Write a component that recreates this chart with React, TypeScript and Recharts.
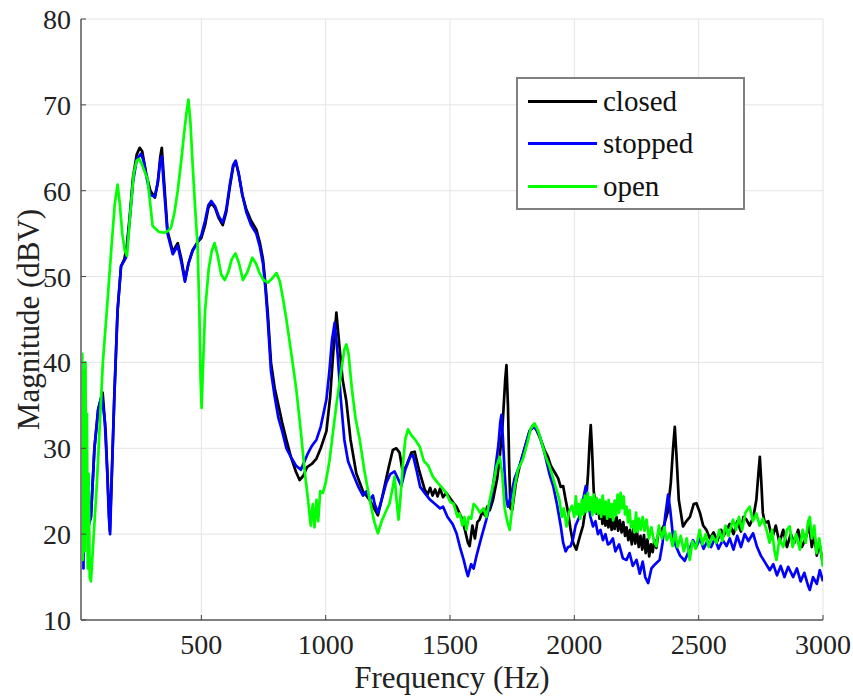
import React from "react"
import { LineChart, Line, XAxis, YAxis, CartesianGrid, Legend, Label } from "recharts"

// [frequency Hz, magnitude dBV]
const closed: [number, number][] = [
  [16, 30], [22, 26], [30, 24], [40, 22.5], [50, 21.5], [56, 22], [70, 30], [85, 34.5], [103, 36.5],
  [115, 32], [125, 25], [132, 20.4], [140, 27], [150, 36], [163, 46], [177, 51.2], [190, 52], [200, 53.5],
  [212, 57], [225, 61.5], [240, 64.2], [252, 65], [262, 64.6], [278, 62], [295, 60], [313, 59.2], [325, 61],
  [335, 64], [341, 65], [348, 62], [364, 55.3], [385, 52.9], [405, 53.9], [420, 52], [434, 49.6], [448, 51.5],
  [465, 53.1], [485, 54], [500, 54.5], [515, 56], [528, 58], [540, 58.6], [555, 58], [570, 56.8], [586, 56],
  [600, 57.5], [615, 60.5], [628, 62.8], [638, 63.4], [650, 62], [665, 59.5], [681, 57.8], [700, 56.5],
  [721, 55.5], [735, 54], [748, 52], [758, 49], [767, 45.8], [780, 40], [795, 37], [810, 35], [825, 33],
  [842, 31], [860, 29], [880, 27.3], [895, 26.3], [910, 26.8], [925, 27.8], [945, 28.2], [963, 28.8],
  [980, 30], [1003, 32], [1018, 36], [1030, 41], [1043, 45.8], [1055, 42], [1068, 38], [1083, 35.5],
  [1100, 31], [1123, 27.1], [1150, 25], [1177, 24], [1195, 23], [1210, 22.2], [1225, 24], [1240, 26],
  [1255, 28], [1270, 29.8], [1284, 30], [1297, 29.5], [1310, 27.2], [1325, 28], [1345, 29.5], [1358, 29.6],
  [1375, 27.5], [1398, 25.2], [1410, 24.6], [1420, 25.4], [1430, 24.5], [1440, 25.2], [1450, 24.4],
  [1460, 25.3], [1472, 24.3], [1485, 24.8], [1500, 24.2], [1515, 23.6], [1526, 23.2], [1545, 22],
  [1560, 20.5], [1572, 19], [1579, 18.6], [1590, 21], [1600, 19.5], [1610, 21.4], [1619, 21.7], [1630, 22.6],
  [1640, 22.2], [1650, 23.2], [1660, 22.8], [1673, 24], [1690, 26.5], [1700, 29], [1712, 33], [1722, 38],
  [1727, 39.7], [1733, 35], [1738, 28], [1743, 23], [1750, 22.8], [1765, 26], [1780, 27.9], [1800, 30],
  [1820, 32], [1834, 32.7], [1850, 32], [1865, 31], [1880, 29.8], [1894, 29], [1905, 28], [1915, 27.5],
  [1925, 27], [1935, 26.5], [1945, 25.5], [1955, 25.6], [1965, 24], [1975, 22.5], [1985, 20.5], [1995, 19],
  [2008, 18.2], [2020, 19.5], [2035, 21], [2045, 23], [2055, 27], [2062, 31], [2066, 32.7], [2071, 30],
  [2078, 25], [2089, 22.4], [2095, 23.5], [2101, 21.8], [2107, 23], [2113, 21.2], [2119, 22.8], [2125, 21],
  [2131, 22.5], [2137, 20.8], [2143, 22.2], [2150, 20.5], [2156, 21.8], [2162, 20.6], [2170, 22],
  [2176, 20.4], [2183, 21.6], [2190, 20.2], [2197, 21.4], [2204, 19.8], [2210, 20.8], [2217, 19.3],
  [2224, 20.5], [2231, 18.8], [2238, 20.6], [2245, 18.9], [2252, 20.3], [2259, 18.5], [2266, 19.8],
  [2273, 18.2], [2280, 19.9], [2287, 17.8], [2294, 19.4], [2301, 17.4], [2308, 18.8], [2315, 17.9],
  [2322, 19.3], [2330, 18.4], [2337, 20], [2343, 20.1], [2360, 21], [2375, 22.5], [2388, 26], [2397, 30],
  [2404, 32.5], [2411, 29], [2420, 24], [2437, 20.9], [2450, 21.5], [2465, 22], [2480, 23.5], [2491, 23.6],
  [2505, 22.5], [2518, 21], [2531, 20.5], [2545, 19.5], [2560, 20.2], [2575, 19.2], [2590, 20.5],
  [2600, 19.8], [2612, 20.5], [2625, 21.2], [2640, 20], [2655, 21.5], [2670, 20.3], [2680, 22],
  [2692, 21.7], [2705, 21], [2720, 22], [2732, 24], [2740, 27], [2746, 29], [2752, 26], [2758, 22.5],
  [2766, 21.3], [2780, 21.5], [2795, 19.5], [2810, 21], [2825, 19], [2840, 20.5], [2855, 18.5], [2870, 20],
  [2885, 19], [2900, 20.5], [2915, 18.5], [2930, 19.5], [2945, 21], [2955, 18.5], [2965, 20], [2975, 17.5],
  [2985, 19], [3000, 16.5],
]

const stopped: [number, number][] = [
  [16, 40], [18, 24], [20, 40], [22, 17], [24, 38], [26, 16], [28, 37], [31, 24], [35, 20], [40, 22],
  [47, 21], [56, 22], [70, 30], [85, 34.5], [100, 36.3], [112, 33], [122, 27], [128, 22], [133, 20],
  [140, 27], [150, 36], [163, 46], [177, 51.2], [197, 52.2], [210, 56], [225, 61], [240, 63.6], [257, 64.3],
  [268, 63.5], [280, 61.5], [295, 59.5], [313, 59.3], [325, 61], [335, 63.5], [341, 64], [348, 61],
  [364, 55], [385, 52.6], [405, 53.6], [420, 51.6], [434, 49.4], [448, 51.5], [465, 53], [485, 54],
  [500, 54.8], [515, 56.5], [528, 58.3], [540, 58.8], [555, 58.2], [570, 57], [586, 56.3], [600, 57.8],
  [615, 60.8], [628, 63], [638, 63.5], [650, 62], [665, 59.5], [681, 57.5], [700, 56], [721, 55], [735, 53.5],
  [748, 51.5], [758, 48.5], [767, 45], [780, 39], [795, 36], [810, 33.5], [825, 32], [842, 30], [860, 29],
  [880, 28], [900, 27.5], [915, 28.5], [930, 29.5], [945, 30.3], [963, 31], [980, 32.5], [1003, 35.7],
  [1015, 39], [1025, 42.5], [1036, 44.6], [1048, 41], [1060, 36], [1075, 31], [1090, 28.5], [1110, 27],
  [1130, 25.6], [1150, 24.5], [1165, 25], [1177, 24], [1190, 24.5], [1197, 23.5], [1210, 22.5], [1225, 24],
  [1244, 26], [1260, 27], [1277, 27.3], [1290, 26.5], [1304, 25.6], [1320, 27.5], [1340, 29], [1351, 29.2],
  [1365, 27.5], [1380, 25.5], [1398, 24.8], [1420, 24], [1440, 23.5], [1460, 23], [1472, 23.2], [1490, 22],
  [1510, 21.2], [1526, 20.1], [1540, 18.5], [1555, 17], [1565, 15.8], [1572, 15.1], [1585, 16.5],
  [1595, 16], [1606, 17.4], [1625, 19.5], [1646, 21.7], [1665, 24], [1680, 27.1], [1695, 30.5], [1702, 33],
  [1707, 33.9], [1713, 31], [1720, 27], [1727, 24], [1733, 23.2], [1745, 24.5], [1760, 26.5], [1780, 28],
  [1800, 30], [1820, 32], [1840, 32.6], [1860, 31.5], [1880, 29.5], [1900, 27], [1915, 25.6], [1930, 23.5],
  [1945, 21], [1955, 19], [1965, 18], [1975, 18.5], [1985, 18.6], [1995, 19.5], [2005, 21], [2020, 22],
  [2035, 24], [2046, 25.6], [2055, 24], [2065, 22], [2075, 20.9], [2085, 21.5], [2095, 20], [2105, 20.5],
  [2115, 19.3], [2125, 20], [2135, 18.8], [2142, 18.9], [2155, 19.5], [2165, 18], [2180, 18.8], [2195, 17.2],
  [2210, 17], [2222, 17.8], [2235, 16.3], [2250, 17], [2263, 15.4], [2275, 16.8], [2285, 15], [2297, 14.3],
  [2310, 16], [2325, 16.5], [2343, 17], [2355, 19], [2365, 22], [2377, 24.6], [2385, 23], [2397, 19.7],
  [2410, 18.5], [2425, 17.5], [2444, 16.9], [2460, 18], [2477, 19.3], [2490, 18.5], [2505, 19.5],
  [2520, 18.3], [2535, 19.2], [2550, 18.5], [2565, 19.5], [2580, 18.3], [2597, 19.3], [2612, 18.6],
  [2625, 19.5], [2640, 18.2], [2655, 19.8], [2670, 18.5], [2685, 20], [2700, 19.2], [2719, 20.1],
  [2735, 18.5], [2750, 17.5], [2765, 16.8], [2786, 15.8], [2800, 16.5], [2815, 15.2], [2830, 16.3],
  [2845, 15], [2860, 16.2], [2880, 15], [2895, 16], [2910, 14.5], [2925, 15.5], [2940, 14], [2947, 13.5],
  [2960, 15], [2975, 14.2], [2987, 15.8], [3000, 14.5],
]

const open: [number, number][] = [
  [16, 39], [19, 22], [21, 41], [23, 17], [25, 39], [27, 20], [29, 38], [31, 18], [34, 40], [37, 21],
  [40, 34], [43, 16], [47, 27], [51, 15], [56, 14.5], [80, 26], [104, 40], [123, 47.3], [140, 54],
  [152, 58.5], [163, 60.7], [172, 58.5], [182, 55], [192, 53], [201, 52.4], [213, 57], [228, 62],
  [240, 63.5], [250, 63.7], [262, 63], [284, 61.3], [304, 55.9], [330, 55.2], [351, 55.1], [365, 55.3],
  [378, 55.7], [392, 57.5], [405, 60], [418, 63.2], [430, 66.5], [440, 69], [448, 70.6], [456, 68],
  [465, 63], [475, 58], [485, 53.5], [492, 46], [497, 38], [501, 34.7], [506, 39], [515, 46], [530, 51],
  [542, 53], [553, 53.9], [565, 52.5], [580, 50.2], [594, 49.6], [608, 50.5], [622, 52], [637, 52.7],
  [652, 51.5], [667, 49.6], [685, 50.5], [705, 52.2], [720, 51.5], [734, 50.4], [750, 49.6], [768, 49.3],
  [785, 49.8], [802, 50.4], [815, 49.5], [828, 47.5], [842, 45], [862, 41], [882, 36.8], [900, 32],
  [915, 27.5], [929, 24], [940, 21], [948, 23.5], [955, 20.8], [963, 24], [970, 21.5], [978, 25],
  [989, 24.8], [1000, 26], [1015, 28.5], [1029, 31.8], [1045, 35.5], [1060, 38.5], [1075, 41.5],
  [1083, 42.1], [1092, 41], [1105, 37], [1120, 33.5], [1137, 31], [1155, 27.5], [1177, 24], [1195, 21.5],
  [1210, 20.1], [1225, 21.5], [1240, 22.5], [1257, 23.6], [1270, 25.5], [1277, 26.7], [1285, 24],
  [1293, 21.7], [1300, 24], [1310, 28], [1320, 31], [1331, 32.2], [1345, 31.5], [1360, 31], [1378, 30.2],
  [1395, 28.5], [1412, 28], [1431, 26.7], [1450, 26], [1465, 25.5], [1485, 24.8], [1500, 23.8],
  [1515, 23.5], [1530, 22], [1539, 22.4], [1550, 21], [1558, 22], [1566, 20.5], [1575, 22], [1585, 21.8],
  [1595, 23.5], [1606, 23.2], [1620, 22.5], [1635, 23], [1646, 22], [1660, 24], [1675, 26], [1687, 27.9],
  [1700, 29], [1710, 27], [1720, 23], [1730, 21.5], [1740, 20.5], [1750, 23], [1760, 25.5], [1773, 27.5],
  [1793, 28.7], [1810, 30.5], [1825, 32.3], [1840, 32.9], [1855, 32], [1870, 30.5], [1885, 29],
  [1900, 27.9], [1915, 26.5], [1925, 25.5], [1940, 24], [1950, 22], [1958, 23], [1968, 20.9], [1978, 22.5],
  [1990, 23.3], [2000, 22], [2006, 24.4], [2012, 22.3], [2018, 23.5], [2024, 21.8], [2030, 24],
  [2036, 22.3], [2042, 24.5], [2048, 22.6], [2054, 24.8], [2060, 22.8], [2066, 24.3], [2072, 22.2],
  [2078, 24.6], [2084, 22.5], [2090, 24.2], [2096, 22.4], [2102, 24], [2108, 22], [2114, 24.5],
  [2120, 22.3], [2126, 23.8], [2132, 21.8], [2138, 24], [2144, 22], [2150, 23.5], [2156, 21.6],
  [2162, 23.9], [2168, 22.2], [2174, 24.6], [2180, 22.5], [2186, 24.8], [2192, 23], [2198, 24.4],
  [2204, 22.3], [2210, 23.2], [2216, 21.4], [2222, 22.8], [2228, 20.8], [2236, 21.5], [2242, 20.2],
  [2248, 22.5], [2254, 20.3], [2260, 21.8], [2267, 20.5], [2275, 22], [2282, 20.4], [2290, 21.7],
  [2300, 19.5], [2310, 20.8], [2320, 19.2], [2330, 18.6], [2340, 21], [2352, 19.5], [2362, 20.8],
  [2372, 19.3], [2384, 20.1], [2395, 18.6], [2405, 20.3], [2415, 18.5], [2428, 19.8], [2440, 18],
  [2452, 19.5], [2464, 17], [2475, 19.2], [2488, 18.3], [2504, 20.5], [2515, 18.8], [2528, 20],
  [2540, 18.5], [2555, 19.8], [2571, 19], [2583, 20.5], [2595, 19.2], [2608, 21], [2620, 19.8],
  [2638, 21.7], [2650, 20.5], [2662, 22], [2675, 20.5], [2688, 22.5], [2705, 23.2], [2718, 21.5],
  [2732, 22.4], [2745, 21], [2758, 21.8], [2773, 20.5], [2785, 19], [2795, 20.5], [2805, 18], [2813, 17],
  [2825, 19.5], [2840, 18.5], [2855, 20.5], [2866, 20.9], [2878, 18.5], [2892, 20], [2907, 18.2],
  [2918, 20.5], [2930, 19], [2940, 21.5], [2947, 22], [2955, 19.5], [2965, 21], [2974, 17.8], [2985, 19.5],
  [3000, 16.2],
]

const freqTicks = [500, 1000, 1500, 2000, 2500, 3000]
const magTicks = [10, 20, 30, 40, 50, 60, 70, 80]

const series = [
  { name: "closed", color: "#000000", points: closed },
  { name: "stopped", color: "#0000ff", points: stopped },
  { name: "open", color: "#00ff00", points: open },
]

const FONT = "'Liberation Serif', 'Times New Roman', serif"
const BOX = "#808080"

// keep the legend in plotting order (recharts sorts the payload by name)
const LegendBox = () => (
  <div
    style={{
      width: 229,
      height: 133,
      boxSizing: "border-box",
      border: `2px solid ${BOX}`,
      background: "#fff",
      paddingTop: 1,
      fontFamily: FONT,
    }}
  >
    {series.map((s) => (
      <div key={s.name} style={{ display: "flex", alignItems: "center", height: 42.5 }}>
        <div style={{ marginLeft: 10, width: 69, height: 3, background: s.color }} />
        <span style={{ marginLeft: 6, fontSize: 29, color: "#111", lineHeight: 1 }}>{s.name}</span>
      </div>
    ))}
  </div>
)

export default function App() {
  return (
    <div style={{ position: "absolute", left: 0, top: 0, width: 853, height: 697, background: "#fff" }}>
      <LineChart width={853} height={697} margin={{ top: 19, right: 30, bottom: 37, left: 21 }}>
        <CartesianGrid stroke="#e4e4e4" strokeWidth={1} />
        <XAxis
          type="number"
          dataKey="f"
          domain={[16, 3000]}
          ticks={freqTicks}
          allowDataOverflow
          height={40}
          tickSize={-5}
          tickMargin={19}
          axisLine={{ stroke: BOX, strokeWidth: 2 }}
          tickLine={{ stroke: "#444" }}
          tick={{ fill: "#222", fontSize: 28, fontFamily: FONT }}
        >
          <Label value="Frequency (Hz)" position="bottom" offset={6} style={{ fontSize: 31, fontFamily: FONT, fill: "#222" }} />
        </XAxis>
        <XAxis
          xAxisId="top"
          orientation="top"
          type="number"
          domain={[16, 3000]}
          ticks={freqTicks}
          height={0}
          tickSize={-5}
          tick={false}
          axisLine={{ stroke: BOX, strokeWidth: 2 }}
          tickLine={{ stroke: "#444" }}
        />
        <YAxis
          type="number"
          domain={[10, 80]}
          ticks={magTicks}
          allowDataOverflow
          width={60}
          tickSize={-5}
          tickMargin={15}
          axisLine={{ stroke: BOX, strokeWidth: 2 }}
          tickLine={{ stroke: "#444" }}
          tick={{ fill: "#222", fontSize: 28, fontFamily: FONT }}
        >
          <Label
            value="Magnitude (dBV)"
            angle={-90}
            position="insideLeft"
            offset={7}
            style={{ fontSize: 31, fontFamily: FONT, fill: "#222", textAnchor: "middle" }}
          />
        </YAxis>
        <YAxis
          yAxisId="right"
          orientation="right"
          type="number"
          domain={[10, 80]}
          ticks={magTicks}
          width={0}
          tickSize={-5}
          tick={false}
          axisLine={{ stroke: BOX, strokeWidth: 2 }}
          tickLine={{ stroke: "#444" }}
        />
        {series.map((s) => (
          <Line
            key={s.name}
            name={s.name}
            data={s.points.map(([f, m]) => ({ f, m }))}
            dataKey="m"
            type="linear"
            stroke={s.color}
            strokeWidth={2.7}
            strokeLinejoin="round"
            dot={false}
            activeDot={false}
            isAnimationActive={false}
          />
        ))}
        <Legend
          layout="vertical"
          align="center"
          verticalAlign="middle"
          content={<LegendBox />}
          wrapperStyle={{ left: 516, top: 77, width: 229, height: 133 }}
        />
      </LineChart>
    </div>
  )
}
